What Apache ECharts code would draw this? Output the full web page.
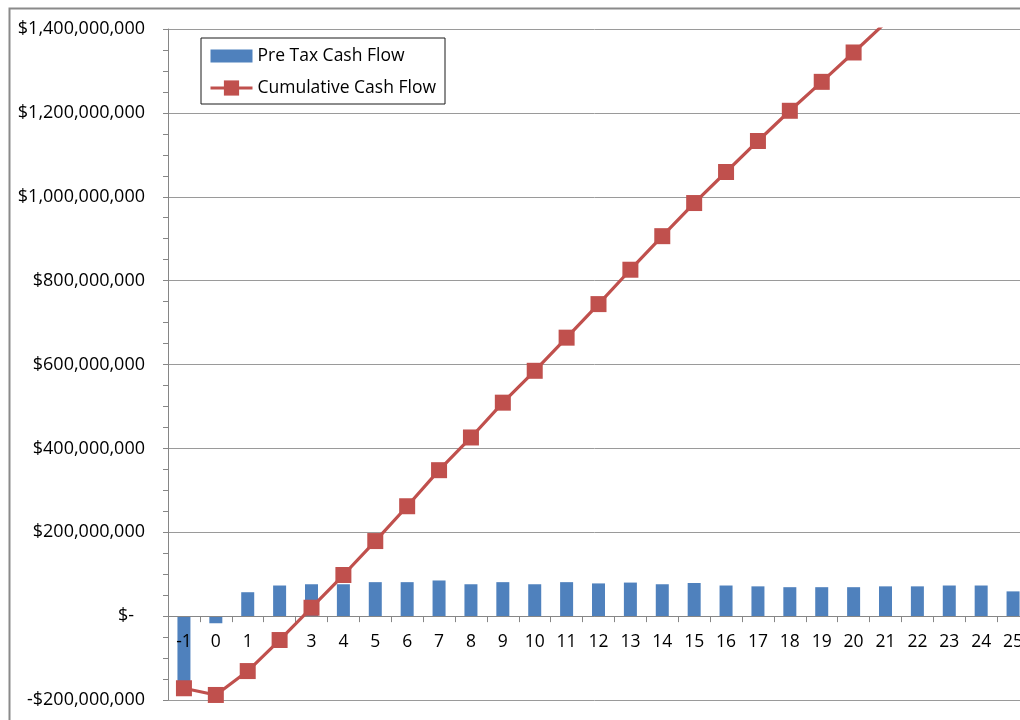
<!DOCTYPE html>
<html>
<head>
<meta charset="utf-8">
<script src="https://cdn.jsdelivr.net/npm/echarts@6/dist/echarts.min.js"></script>
<style>
  html, body { margin: 0; padding: 0; background: #fff; }
  #chart { width: 1020px; height: 720px; }
</style>
</head>
<body>
<div id="chart"></div>
<script>
// Project years, -1 (construction) through 25
const years = ['-1','0','1','2','3','4','5','6','7','8','9','10','11','12','13','14','15','16','17','18','19','20','21','22','23','24','25'];

// Annual pre-tax cash flow, millions of dollars
const preTaxCashFlowM = [-172, -17, 57, 73, 76, 76, 81, 81, 85, 76, 81, 76, 81, 78, 80, 76, 79, 73, 71, 69, 69, 69, 71, 71, 73, 73, 59];

// Running total of cash flow, millions of dollars
const cumulativeCashFlowM = [-172, -188, -131, -57, 20, 98, 179, 262, 348, 426, 509, 585, 664, 744, 826, 906, 985, 1059, 1133, 1205, 1274, 1344, 1415, 1486, 1559, 1632, 1691];

// Value axis ticks, dollars
const yMin = -200000000;
const yMax = 1400000000;
const yStep = 200000000;

const M = 1000000;
const FONT = 'Open Sans';
const AXIS_GRAY = '#868686';

// Plot box in pixels
const GRID_TOP = 29;
const GRID_BOTTOM = 20;
const CHART_H = 720;
const plotH = CHART_H - GRID_TOP - GRID_BOTTOM;
// Category axis sits on the zero line: lift it from the bottom edge by |min| share of the range
const zeroLift = plotH * (0 - yMin) / (yMax - yMin);

function money(v) {
  if (v === 0) return '{z|$-}';
  const s = Math.abs(v).toString().replace(/\B(?=(\d{3})+(?!\d))/g, ',');
  return (v < 0 ? '-$' : '$') + s;
}

const chart = echarts.init(document.getElementById('chart'), null, { renderer: 'canvas' });

chart.setOption({
  backgroundColor: '#ffffff',
  animation: false,
  textStyle: { fontFamily: FONT, color: '#000' },
  graphic: [{
    type: 'rect',
    left: 7, top: 6,
    shape: { width: 1100, height: 800 },
    style: { fill: 'none', stroke: '#8a8a8a', lineWidth: 2 },
    silent: true,
    z: 0
  }],
  grid: {
    left: 168, right: -9, top: GRID_TOP, bottom: GRID_BOTTOM,
    containLabel: false,
    outerBoundsMode: 'none'
  },
  legend: {
    orient: 'vertical',
    left: 201, top: 38,
    padding: [9, 9, 7, 8],
    itemGap: 14,
    itemWidth: 42,
    itemHeight: 19,
    symbolKeepAspect: true,
    backgroundColor: '#fff',
    borderColor: '#1a1a1a',
    borderWidth: 1,
    textStyle: { fontFamily: FONT, fontSize: 17.5, color: '#000' },
    data: [
      { name: 'Pre Tax Cash Flow', icon: 'path://M0,0L39,0L39,12L0,12Z' },
      { name: 'Cumulative Cash Flow', lineStyle: { width: 3 } }
    ]
  },
  xAxis: {
    type: 'category',
    data: years,
    position: 'bottom',
    offset: -zeroLift,
    z: 3,
    axisLine: { onZero: false, lineStyle: { color: AXIS_GRAY, width: 1 } },
    axisTick: { show: true, length: 6, lineStyle: { color: AXIS_GRAY } },
    axisLabel: { fontFamily: FONT, fontSize: 17.5, color: '#000', margin: 17, interval: 0 },
    splitLine: { show: false }
  },
  yAxis: {
    type: 'value',
    min: yMin, max: yMax, interval: yStep,
    axisLine: { show: true, lineStyle: { color: AXIS_GRAY, width: 1 } },
    axisTick: { show: true, length: 5, lineStyle: { color: AXIS_GRAY } },
    minorTick: { show: true, splitNumber: 4, length: 5, lineStyle: { color: AXIS_GRAY } },
    axisLabel: {
      fontFamily: FONT, fontSize: 18, color: '#000', margin: 23,
      formatter: money,
      rich: { z: { fontFamily: FONT, fontSize: 18, color: '#000', padding: [0, 11, 0, 0] } }
    },
    splitLine: { show: true, lineStyle: { color: '#9a9a9a', width: 1 } }
  },
  series: [
    {
      name: 'Pre Tax Cash Flow',
      type: 'bar',
      barWidth: 13,
      data: preTaxCashFlowM.map(v => v * M),
      itemStyle: { color: '#4F81BD' },
      z: 2
    },
    {
      name: 'Cumulative Cash Flow',
      type: 'line',
      data: cumulativeCashFlowM.map(v => v * M),
      clip: true,
      symbol: 'rect',
      symbolSize: 16,
      lineStyle: { color: '#C0504D', width: 3.2 },
      itemStyle: { color: '#C0504D' },
      z: 4
    }
  ]
});
</script>
</body>
</html>
